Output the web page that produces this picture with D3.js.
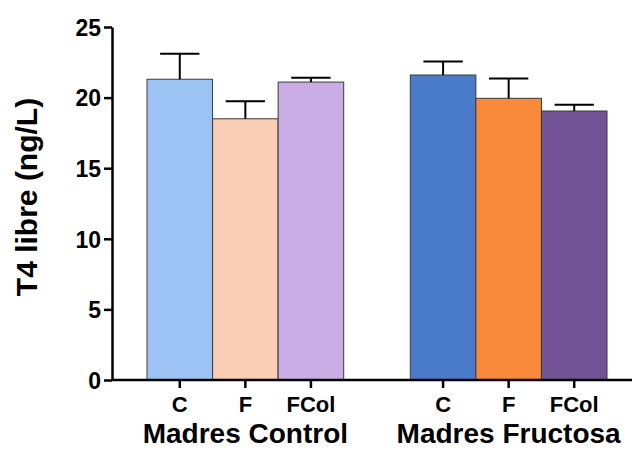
<!DOCTYPE html>
<html>
<head>
<meta charset="utf-8">
<script src="https://cdn.jsdelivr.net/npm/d3@7"></script>
<style>
  body { margin: 0; background: #fff; }
  text { font-family: Arial, "Liberation Sans", sans-serif; font-weight: bold; fill: #000; }
</style>
</head>
<body>
<div id="chart"></div>
<script>
// data
var groups = ["Madres Control", "Madres Fructosa"];
var conditions = ["C", "F", "FCol"];
var controlMeans = [21.3, 18.5, 21.1];
var controlErr = [1.8, 1.25, 0.3];
var fructosaMeans = [21.6, 19.95, 19.05];
var fructosaErr = [0.95, 1.4, 0.45];
var controlColors = ["#9dc3f4", "#f9ceb5", "#c9ade4"];
var fructosaColors = ["#4a7bc8", "#f98a3b", "#725496"];
var yTicks = [0, 5, 10, 15, 20, 25];

var svgWidth = 632;
var svgHeight = 450;

var margin = { top: 27, right: 0, bottom: 70, left: 112 };
var height = svgHeight - margin.top - margin.bottom;

var rows = [];
groups.forEach(function(g, gi) {
  var means = gi === 0 ? controlMeans : fructosaMeans;
  var errs = gi === 0 ? controlErr : fructosaErr;
  var cols = gi === 0 ? controlColors : fructosaColors;
  conditions.forEach(function(c, ci) {
    rows.push({ group: g, cond: c, mean: means[ci], err: errs[ci], color: cols[ci] });
  });
});

var svg = d3.select("#chart")
  .append("svg")
  .attr("width", svgWidth)
  .attr("height", svgHeight);

var chartGroup = svg.append("g")
  .attr("transform", `translate(${margin.left}, ${margin.top})`);

// outer scale for the two mother groups, inner for the three conditions
var x0 = d3.scaleBand()
  .domain(groups)
  .range([35, 495])
  .paddingInner(0.253)
  .paddingOuter(0);

var x1 = d3.scaleBand()
  .domain(conditions)
  .range([0, x0.bandwidth()]);

var y = d3.scaleLinear()
  .domain([0, 25])
  .range([height, 0]);

// bars
chartGroup.append("g").selectAll("rect")
  .data(rows)
  .enter()
  .append("rect")
  .attr("x", d => x0(d.group) + x1(d.cond))
  .attr("y", d => y(d.mean))
  .attr("width", x1.bandwidth())
  .attr("height", d => y(0) - y(d.mean))
  .attr("fill", d => d.color)
  .attr("stroke", "#3a3a3a")
  .attr("stroke-width", 1);

// error bars (upper only)
var capW = x1.bandwidth() * 0.6;
var err = chartGroup.append("g")
  .attr("stroke", "#000")
  .attr("stroke-width", 2);

err.selectAll(".stem")
  .data(rows)
  .enter()
  .append("line")
  .attr("x1", d => x0(d.group) + x1(d.cond) + x1.bandwidth() / 2)
  .attr("x2", d => x0(d.group) + x1(d.cond) + x1.bandwidth() / 2)
  .attr("y1", d => y(d.mean))
  .attr("y2", d => y(d.mean + d.err));

err.selectAll(".cap")
  .data(rows)
  .enter()
  .append("line")
  .attr("x1", d => x0(d.group) + x1(d.cond) + x1.bandwidth() / 2 - capW / 2)
  .attr("x2", d => x0(d.group) + x1(d.cond) + x1.bandwidth() / 2 + capW / 2)
  .attr("y1", d => y(d.mean + d.err))
  .attr("y2", d => y(d.mean + d.err));

// y axis
var leftAxis = d3.axisLeft(y)
  .tickValues(yTicks)
  .tickSize(8)
  .tickPadding(3)
  .tickSizeOuter(0);

var yAxis = chartGroup.append("g")
  .call(leftAxis);
yAxis.select(".domain").attr("stroke-width", 2.5);
yAxis.selectAll(".tick line").attr("stroke-width", 2.5);
yAxis.selectAll(".tick text")
  .style("font-size", "23px")
  .attr("dy", "0.36em");

// x axis line
chartGroup.append("line")
  .attr("x1", 0)
  .attr("x2", svgWidth - margin.left)
  .attr("y1", height)
  .attr("y2", height)
  .attr("stroke", "#000")
  .attr("stroke-width", 2.5);

// x ticks and condition labels
var xTicks = chartGroup.append("g").selectAll("g")
  .data(rows)
  .enter()
  .append("g")
  .attr("transform", d => `translate(${x0(d.group) + x1(d.cond) + x1.bandwidth() / 2}, ${height})`);

xTicks.append("line")
  .attr("y1", 0)
  .attr("y2", 8)
  .attr("stroke", "#000")
  .attr("stroke-width", 2.5);

xTicks.append("text")
  .attr("y", 32)
  .attr("text-anchor", "middle")
  .style("font-size", "22px")
  .text(d => d.cond);

// group labels
chartGroup.append("g").selectAll("text")
  .data(groups)
  .enter()
  .append("text")
  .attr("x", d => x0(d) + x0.bandwidth() / 2)
  .attr("y", height + 63)
  .attr("text-anchor", "middle")
  .style("font-size", "28px")
  .text(d => d);

// y axis title
chartGroup.append("text")
  .attr("transform", "rotate(-90)")
  .attr("x", -(170))
  .attr("y", 37 - margin.left)
  .attr("text-anchor", "middle")
  .style("font-size", "30px")
  .text("T4 libre (ng/L)");
</script>
</body>
</html>
